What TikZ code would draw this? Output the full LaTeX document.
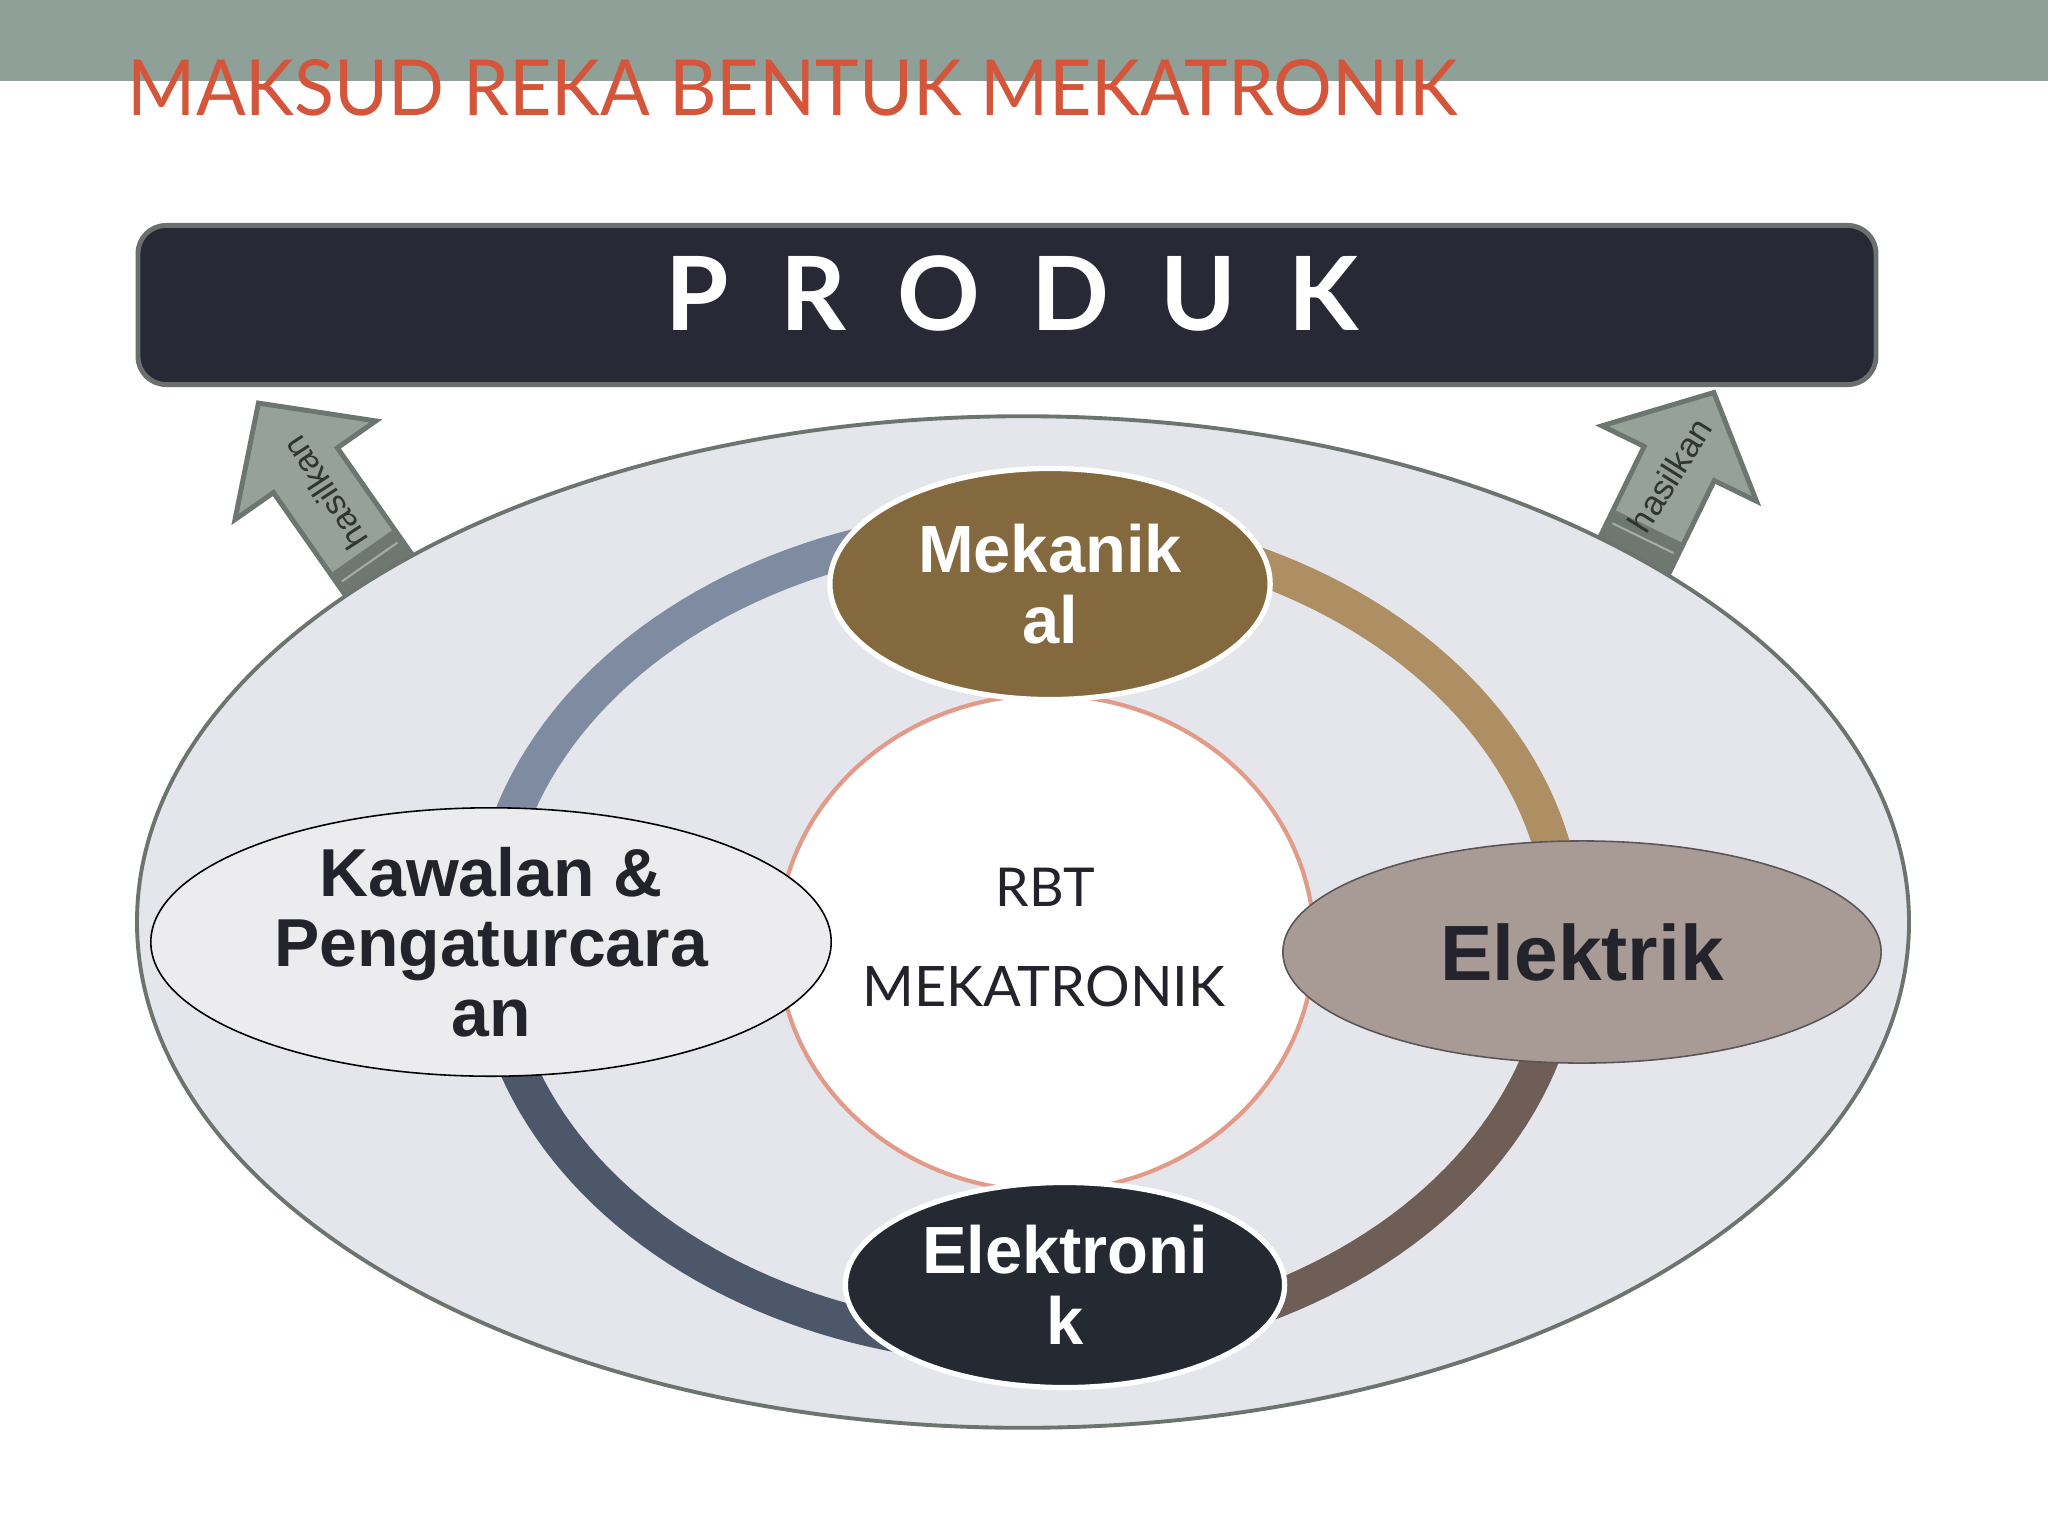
\documentclass[tikz,border=0pt]{standalone}
\usepackage{graphicx}
\usepackage{fontspec}
\setmainfont{Liberation Sans}
\newfontfamily\latofont{Lato}
\usetikzlibrary{shapes.geometric}
\definecolor{band}{HTML}{8FA098}
\definecolor{titlered}{HTML}{D4553A}
\definecolor{boxfill}{HTML}{292935}
\definecolor{boxborder}{HTML}{6B706E}
\definecolor{arrowface}{HTML}{95A199}
\definecolor{arrowborder}{HTML}{6C7670}
\definecolor{arrowdark}{HTML}{6E7871}
\definecolor{arrowlight}{HTML}{A3ABA5}
\definecolor{ellfill}{HTML}{E5E6EB}
\definecolor{ellborder}{HTML}{6C746E}
\definecolor{ringA}{HTML}{7F8BA0}
\definecolor{ringB}{HTML}{AE8F63}
\definecolor{ringC}{HTML}{6E5E56}
\definecolor{ringD}{HTML}{4C576A}
\definecolor{salmon}{HTML}{E39B89}
\definecolor{mekfill}{HTML}{84693F}
\definecolor{elnfill}{HTML}{252A32}
\definecolor{elkfill}{HTML}{A89A95}
\definecolor{elkborder}{HTML}{5A5656}
\definecolor{kawfill}{HTML}{ECECEE}
\definecolor{darktext}{HTML}{23232B}
\definecolor{hasiltext}{HTML}{2F3532}
\tikzset{
  ringseg/.style={line width=10.5pt},
  bubble/.style={ellipse, inner sep=0, align=center},
  whitebubble/.style={bubble, draw=white, line width=1.5pt, text=white,
     font=\bfseries\fontsize{19}{20.2}\selectfont},
  arrowbody/.style={fill=arrowface, draw=arrowborder, line width=1.4pt, line join=miter},
  hasil/.style={inner sep=0, text=hasiltext, font=\fontsize{9.8}{11}\selectfont},
}
\newcommand{\hasilshape}[4]{%
  \begin{scope}[shift={#1}, rotate=#2]
    \filldraw[arrowbody] (-30,-39) -- (#3,-39) -- (#3,-86) -- (#4,0) -- (#3,86) -- (#3,39) -- (-30,39) -- cycle;
    \fill[arrowdark] (-30,-39) rectangle (24,39);
    \draw[arrowlight, line width=0.6pt] (11,-34) -- (11,34);
  \end{scope}}
\begin{document}
\begin{tikzpicture}[x=0.01cm,y=-0.01cm]
\useasboundingbox (0,0) rectangle (2048,1536);
\fill[white] (0,0) rectangle (2048,1536);
\fill[band] (0,0) rectangle (2048,81);
\node[anchor=base west, inner sep=0, text=titlered] (title) at (127,115)
  {\resizebox{13.29cm}{0.56cm}{\latofont MAKSUD REKA BENTUK MEKATRONIK}};

% product bar
\node[draw=boxborder, fill=boxfill, line width=1.4pt, rounded corners=0.28cm,
      minimum width=17.37cm, minimum height=1.59cm, inner sep=0] (produk) at (1007,305) {};
\node[anchor=base, inner sep=0, text=white] (produktext) at (1012,330)
  {\resizebox{6.92cm}{!}{\latofont\bfseries P\hspace{5pt}R\hspace{5pt}O\hspace{5pt}D\hspace{5pt}U\hspace{5pt}K}};

% arrows "hasilkan"
\hasilshape{(376,571)}{125}{123}{205}
\hasilshape{(1638,548)}{64}{94}{173}

% base ellipse
\node[ellipse, draw=ellborder, fill=ellfill, line width=1.1pt,
      minimum width=17.71cm, minimum height=10.11cm, inner sep=0] (base) at (1023,922) {};

\node[hasil, rotate=123] (hasilL) at (325,493) {hasilkan};
\node[hasil, rotate=58] (hasilR) at (1670,475) {hasilkan};

% ring
\coordinate (ringc) at (1027,936);
\draw[ringseg, ringA] plot[domain=180:270, samples=50] ({1027+538*cos(\x)},{936+410*sin(\x)});
\draw[ringseg, ringB] plot[domain=270:360, samples=50] ({1027+538*cos(\x)},{936+410*sin(\x)});
\draw[ringseg, ringC] plot[domain=0:90, samples=50] ({1027+538*cos(\x)},{936+410*sin(\x)});
\draw[ringseg, ringD] plot[domain=90:180, samples=50] ({1027+538*cos(\x)},{936+410*sin(\x)});

% core
\node[ellipse, draw=salmon, fill=white, line width=1.2pt,
      minimum width=5.36cm, minimum height=4.96cm, inner sep=0] (core) at (1046,943) {};
\node[anchor=base, inner sep=0, text=darktext] (rbt) at (1045,906)
  {\resizebox{0.99cm}{!}{\latofont RBT}};
\node[anchor=base, inner sep=0, text=darktext] (mekatronik) at (1044,1006)
  {\resizebox{3.62cm}{!}{\latofont MEKATRONIK}};

% nodes
\node[bubble, fill=kawfill, draw=black, line width=0.45pt, text=darktext,
      font=\bfseries\fontsize{19.3}{19.9}\selectfont,
      minimum width=6.80cm, minimum height=2.37cm] (kawalan) at (491,942)
      {Kawalan \&\\Pengaturcara\\an};
\node[bubble, fill=elkfill, draw=elkborder, line width=0.45pt, text=darktext,
      font=\bfseries\fontsize{22.3}{24}\selectfont,
      minimum width=5.98cm, minimum height=2.22cm] (elektrik) at (1582,952) {Elektrik};
\node[whitebubble, fill=mekfill, minimum width=4.40cm, minimum height=2.31cm] (mekanikal) at (1050,584)
      {Mekanik\\al};
\node[whitebubble, fill=elnfill, minimum width=4.39cm, minimum height=2.05cm] (elektronik) at (1065,1285)
      {Elektroni\\k};
\end{tikzpicture}
\end{document}
